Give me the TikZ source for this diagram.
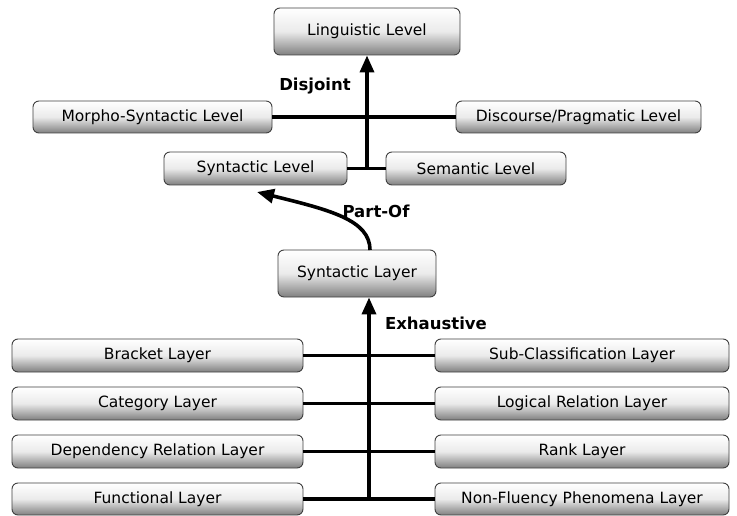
\documentclass[tikz,border=0pt]{standalone}
\usepackage{fontspec}
\setmainfont{DejaVu Sans}
\usetikzlibrary{arrows.meta}

\tikzset{
  box/.style={draw=black!75, line width=0.9pt, rounded corners=6pt,
    top color=white, bottom color=black!50, middle color=black!8,
    inner sep=0pt, font=\fontsize{15.5}{17}\selectfont},
  link/.style={line width=3.6pt, black},
  arr/.style={link, -{Triangle[width=14pt,length=17pt]}},
  relname/.style={font=\fontsize{16.5}{18}\selectfont\bfseries, inner sep=1pt},
}

\begin{document}
\begin{tikzpicture}[x=1pt, y=-1pt]
\useasboundingbox[fill=white] (0,0) rectangle (737,516);

% upper hierarchy
\node[box, minimum width=186pt, minimum height=47pt] (ling) at (367,31.5) {Linguistic Level};
\node[box, minimum width=239pt, minimum height=32pt] (morph) at (152.5,117) {Morpho-Syntactic Level};
\node[box, minimum width=245pt, minimum height=32pt] (disc) at (578.5,117) {Discourse/Pragmatic Level};
\node[box, minimum width=183pt, minimum height=33pt] (synlev) at (255.5,168.5) {Syntactic Level};
\node[box, minimum width=180pt, minimum height=33pt] (sem) at (476,168.5) {Semantic Level};
\node[box, minimum width=158pt, minimum height=47pt] (synlay) at (357,273.5) {Syntactic Layer};

% layers
\node[box, minimum width=291pt, minimum height=33pt] (l1) at (157.5,355.5) {Bracket Layer};
\node[box, minimum width=291pt, minimum height=33pt] (l2) at (157.5,403.5) {Category Layer};
\node[box, minimum width=291pt, minimum height=33pt] (l3) at (157.5,451.5) {Dependency Relation Layer};
\node[box, minimum width=291pt, minimum height=32pt] (l4) at (157.5,499) {Functional Layer};
\node[box, minimum width=294pt, minimum height=33pt] (r1) at (582,355.5) {Sub-Classification Layer};
\node[box, minimum width=294pt, minimum height=33pt] (r2) at (582,403.5) {Logical Relation Layer};
\node[box, minimum width=294pt, minimum height=33pt] (r3) at (582,451.5) {Rank Layer};
\node[box, minimum width=294pt, minimum height=32pt] (r4) at (582,499) {Non-Fluency Phenomena Layer};

% disjoint levels
\coordinate (dj) at (367,168.5);
\draw[link] (morph.east) -- (disc.west);
\draw[link] (synlev.east) -- (sem.west);
\draw[arr] (dj) -- (dj |- ling.south);
\node[relname] (djlab) at (315,86) {Disjoint};

% part-of
\coordinate (po) at (370,250);
\draw[arr] (po) .. controls (370,220) and (330,210) .. (257,192);
\node[relname] (polab) at (376,211) {Part-Of};

% exhaustive layers
\coordinate (ex) at (369,499);
\foreach \a/\b in {l1/r1, l2/r2, l3/r3, l4/r4}
  \draw[link] (\a.east) -- (\b.west);
\draw[arr] (ex) -- (ex |- synlay.south);
\node[relname] (exlab) at (436,323) {Exhaustive};
\end{tikzpicture}
\end{document}
